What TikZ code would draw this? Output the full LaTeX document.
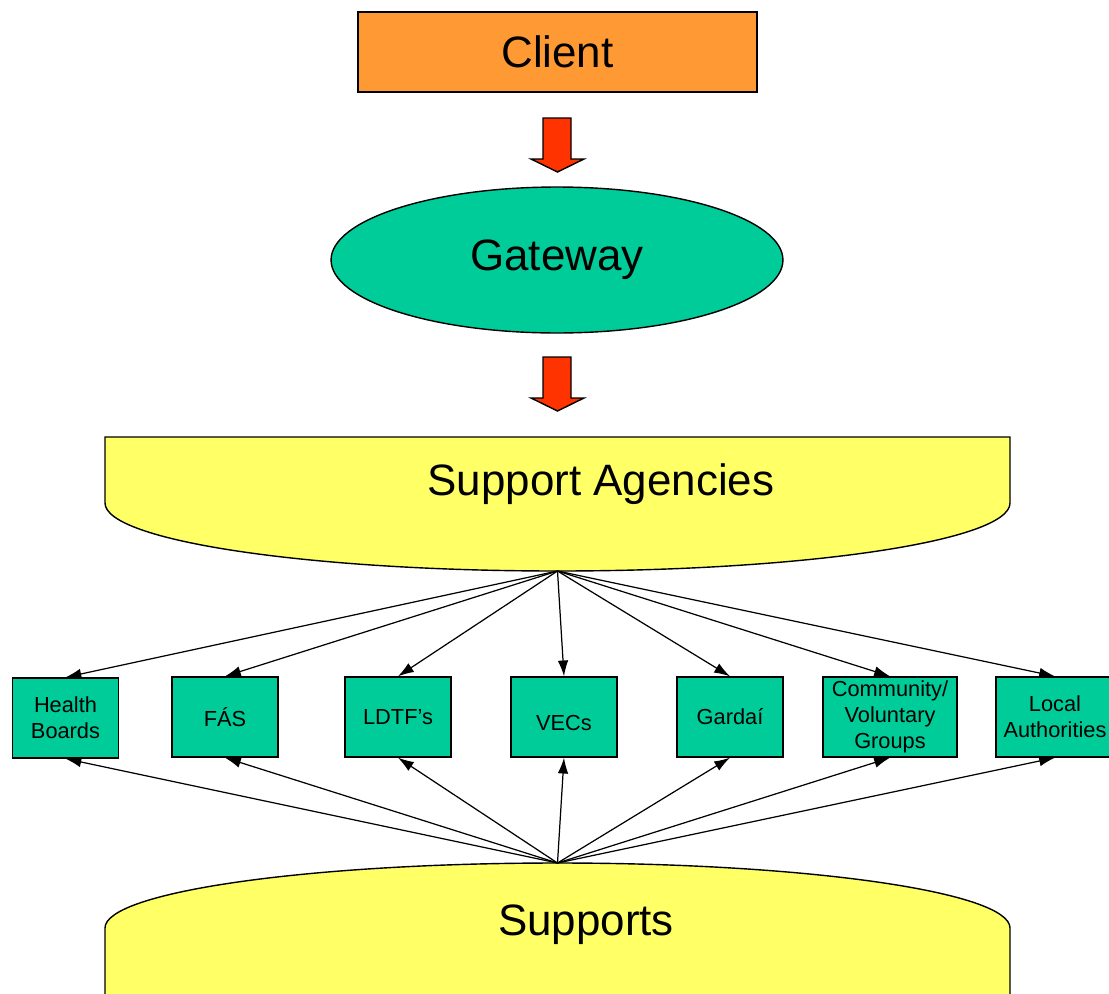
\documentclass[tikz,border=0pt]{standalone}
\usepackage{fontspec}
\setmainfont{Liberation Sans}
\usepackage{tikz}
\usetikzlibrary{arrows.meta,shapes.geometric}

\definecolor{clientorange}{HTML}{FF9933}
\definecolor{gatewaygreen}{HTML}{00CC99}
\definecolor{panelyellow}{HTML}{FFFF66}
\definecolor{blockred}{HTML}{FF3300}

\begin{document}
\begin{tikzpicture}[x=0.02cm, y=-0.02cm,
    bigtext/.style={font=\fontsize{25}{29}\selectfont},
    agency/.style={draw, line width=0.8pt, fill=gatewaygreen, minimum width=2.12cm, minimum height=1.6cm, inner sep=1pt, align=center, font=\fontsize{12.4}{15}\selectfont},
    feed/.style={-{Latex[length=9pt, width=6pt]}, line width=0.7pt}]
                        \useasboundingbox (0, 0) rectangle (1109, 994);
                        % top: client and gateway
                        \node[draw, line width=0.8pt, fill=clientorange, minimum width=7.98cm, minimum height=1.6cm, bigtext] (client) at (557.5, 52){Client};
                        \node[draw, ellipse, line width=0.8pt, fill=gatewaygreen, minimum width=9.04cm, minimum height=2.92cm, bigtext] (gateway) at (557, 260){Gateway};
                        \foreach \yo in {0, 239}
                                \draw[line width=0.8pt, fill=blockred, line join=miter] (543, 118+\yo) -- (571, 118+\yo) -- (571, 159+\yo) -- (584, 159+\yo) -- (557.5, 172+\yo) -- (531, 159+\yo) -- (543, 159+\yo) -- cycle;
                        % support agencies
                        \draw[line width=0.8pt, fill=panelyellow] (105, 437) -- (1010, 437) -- (1010, 503) arc (0:180:452.5 and 68) -- cycle;
                        \node[bigtext] (agencies) at (601, 484){Support Agencies};
                        \coordinate (sa) at (557.5, 571);
                        % supports
                        \draw[line width=0.8pt, fill=panelyellow] (105, 1000) -- (105, 928) arc (180:360:452.5 and 65) -- (1010, 1000);
                        \node[bigtext] (supports) at (586, 925){Supports};
                        \coordinate (sp) at (557.5, 863);
                        % agencies row
                        \node[agency] (hb) at (65.5, 718){Health\\Boards};
                        \node[agency] (fas) at (225, 717){FÁS};
                        \node[agency] (ldtf) at (398, 717){LDTF's};
                        \node[agency, text height=15pt] (vec) at (564, 717){VECs};
                        \node[agency] (gar) at (730, 717){Gardaí};
                        \node[agency, minimum width=2.68cm] (cvg) at (890, 717){Community/\\Voluntary\\Groups};
                        \node[agency, minimum width=2.36cm] (la) at (1055, 717){Local\\Authorities};
                        \foreach \n in {hb, fas, ldtf, vec, gar, cvg, la}{
                                \draw[feed] (sa) -- (\n.north);
                                \draw[feed] (sp) -- (\n.south);
                        }
                \end{tikzpicture}
\end{document}
